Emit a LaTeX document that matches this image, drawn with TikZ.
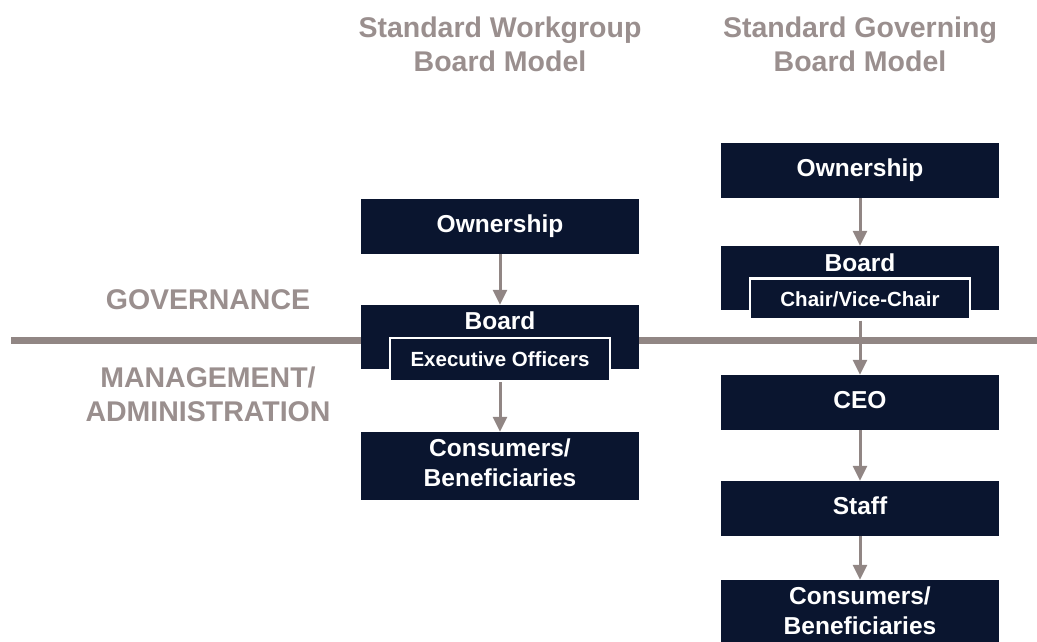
\documentclass[tikz,border=0pt]{standalone}
\usepackage{fontspec}
\setmainfont{Liberation Sans}
\usetikzlibrary{arrows.meta}
\definecolor{navy}{HTML}{0A152F}
\definecolor{greyline}{HTML}{918684}
\definecolor{greytext}{HTML}{9A8F8E}
\tikzset{
  x=1pt, y=-1pt,
  box/.style={fill=navy, draw=none, minimum width=278pt, inner sep=0pt, text=white,
    font=\bfseries\fontsize{24.5}{30}\selectfont, align=center},
  oneline/.style={text height=17.5pt, text depth=6.5pt},
  twoline/.style={text height=47.5pt, text depth=6pt},
  boxlabel/.style={text=white, inner sep=0pt, font=\bfseries\fontsize{24.5}{30}\selectfont},
  innerbox/.style={fill=navy, draw=white, line width=2.2pt, minimum width=220pt, minimum height=43pt,
    inner sep=0pt, text=white, font=\bfseries\fontsize{20.5}{24}\selectfont},
  heading/.style={text=greytext, inner sep=0pt, align=center, font=\bfseries\fontsize{28.5}{34}\selectfont},
  flow/.style={draw=greyline, line width=3pt, -{Triangle[length=15pt,width=14pt]}},
  divider/.style={draw=greyline, line width=7pt}
}
\begin{document}
\begin{tikzpicture}
\useasboundingbox (0,0) rectangle (1037,642);
\clip (0,0) rectangle (1037,642);
% headings
\node[heading] (h1) at (500,44) {Standard Workgroup\\Board Model};
\node[heading] (h2) at (860,44) {Standard Governing\\Board Model};
\node[heading] (gov) at (208,299.5) {GOVERNANCE};
\node[heading] (mgmt) at (208,394.5) {MANAGEMENT/\\ADMINISTRATION};
% divider
\coordinate (dl) at (11,340);
\coordinate (dr) at (1037,340);
\draw[divider] (dl) -- (dr);
% left column
\node[box, oneline, minimum height=55pt] (o1) at (500,226.5) {Ownership};
\node[box, minimum height=64pt] (b1) at (500,337) {};
\node[boxlabel] (b1t) at (500,321) {Board};
\node[innerbox] (e1) at (500,359.5) {Executive Officers};
\node[box, twoline, minimum height=68pt] (c1) at (500,466) {Consumers/\\Beneficiaries};
\draw[flow] (o1.south) -- (b1.north);
\draw[flow] (e1.south) -- (c1.north);
% right column
\node[box, oneline, minimum height=55pt] (o2) at (860,170.5) {Ownership};
\node[box, minimum height=64pt] (b2) at (860,278) {};
\node[boxlabel] (b2t) at (860,263) {Board};
\node[innerbox, minimum height=41pt] (e2) at (860,299) {Chair/Vice-Chair};
\node[box, oneline, minimum height=55pt] (ceo) at (860,402.5) {CEO};
\node[box, oneline, minimum height=55pt] (st) at (860,508.5) {Staff};
\node[box, twoline, minimum height=68pt] (c2) at (860,614) {Consumers/\\Beneficiaries};
\draw[flow] (o2.south) -- (b2.north);
\draw[flow] (e2.south) -- (ceo.north);
\draw[flow] (ceo.south) -- (st.north);
\draw[flow] (st.south) -- (c2.north);
\end{tikzpicture}
\end{document}
